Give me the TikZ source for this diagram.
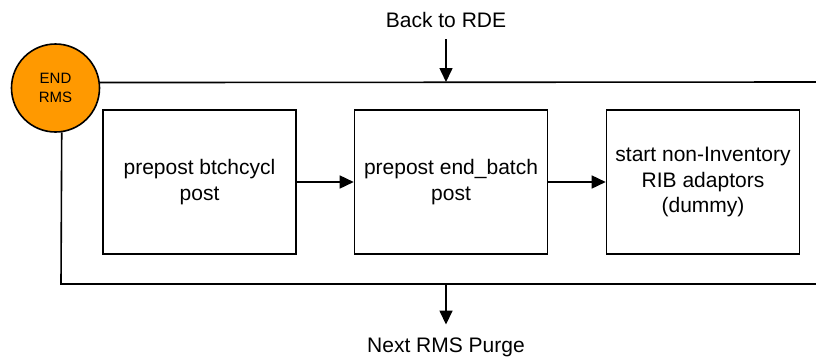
\documentclass[tikz,border=0pt]{standalone}
\usepackage{fontspec}
\setmainfont{Liberation Sans}
\usetikzlibrary{arrows.meta}
\definecolor{endorange}{RGB}{255,153,0}
\begin{document}
\begin{tikzpicture}[x=1pt,y=-1pt, line width=1.6pt,
  procbox/.style={draw, minimum width=193pt, minimum height=144pt, align=center,
    font=\fontsize{21}{25.5}\selectfont, inner sep=0pt},
  lbl/.style={font=\fontsize{21}{25.5}\selectfont, inner sep=0pt},
  arr/.style={-{Triangle[length=14pt,width=13pt]}}]
\useasboundingbox (0,0) rectangle (816,362);
% frame
\node[circle, draw, fill=endorange, minimum size=88pt, inner sep=0pt, align=center,
  font=\fontsize{15}{19.5}\selectfont] (endrms) at (55.5,88) {END\\RMS};
\coordinate (topright) at (816,82);
\coordinate (botleft) at (61,284);
\coordinate (botright) at (816,284);
\draw (endrms.7.8) -- (topright);
\draw (endrms.-82.8) -- (botleft) -- (botright);
% boxes
\node[procbox] (b1) at (199.5,182) {prepost btchcycl\\post};
\node[procbox] (b2) at (451,182) {prepost end\_batch\\post};
\node[procbox] (b3) at (703,182) {start non-Inventory\\RIB adaptors\\(dummy)};
\draw[arr] (b1) -- (b2);
\draw[arr] (b2) -- (b3);
% in / out
\node[lbl, anchor=base] (back) at (446,27) {Back to RDE};
\coordinate (topin) at (446,82);
\draw[arr] ([yshift=-12pt]back.base) -- (topin);
\node[lbl, anchor=base] (next) at (446,352) {Next RMS Purge};
\coordinate (botmid) at (446,284);
\draw[arr] (botmid) -- ([yshift=12pt]next.north);
\end{tikzpicture}
\end{document}
